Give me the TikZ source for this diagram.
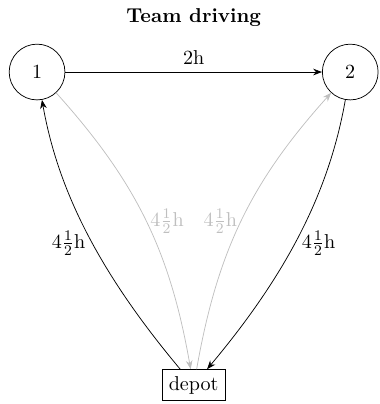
\documentclass[11pt,tikz,border=0pt]{standalone}
\usepackage{amsmath}
\usetikzlibrary{arrows.meta}

\begin{document}
\begin{tikzpicture}[>=Stealth,
  city/.style={circle,draw,minimum size=30.4pt},
  base/.style={rectangle,draw},
  drive/.style={->},
  rest/.style={->,bend left=16,black!25,text=black!25},
  restlabel/.style={inner sep=2pt}]
\useasboundingbox (-0.71,1.38) rectangle (6.57,-6.36);
\node[font=\bfseries] (title) at (3,1.05) {Team driving};
\node[city] (c1) at (0,0) {1};
\node[city] (c2) at (6,0) {2};
\node[base] (depot) at (3,-6) {depot};
% legs
\draw[->] (c1) to node[auto] {2h} (c2);
\draw[drive] (depot) to[out=130,in=-80,out looseness=1.1,in looseness=0.75]
  node[pos=0.45,left] {$4\frac{1}{2}$h} (c1);
\draw[drive] (c2) to[out=-100,in=50,out looseness=0.75,in looseness=1.1]
  node[pos=0.55,right] {$4\frac{1}{2}$h} (depot);
\draw[rest] (c1) to node[pos=0.505,anchor=west,restlabel] {$4\frac{1}{2}$h} (depot);
\draw[rest] (depot) to node[pos=0.495,anchor=east,restlabel] {$4\frac{1}{2}$h} (c2);
\end{tikzpicture}
\end{document}
